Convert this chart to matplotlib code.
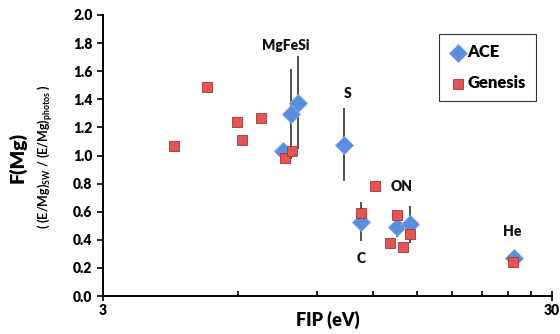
import matplotlib
matplotlib.use("Agg")
import matplotlib.pyplot as plt
from matplotlib.ticker import FixedLocator, NullFormatter, FixedFormatter

plt.rcParams['font.family'] = ['Lato', 'DejaVu Sans']

# ACE data
ace_fip = [7.56, 7.85, 8.15, 10.34, 11.26, 13.57, 14.5, 24.7]
ace_f = [1.03, 1.295, 1.376, 1.075, 0.53, 0.49, 0.51, 0.27]
ace_err = [0.0, 0.32, 0.33, 0.26, 0.14, 0.07, 0.13, 0.02]

# Genesis data
gen_fip = [4.32, 5.11, 5.96, 6.12, 6.73, 7.64, 7.90, 11.26, 12.09, 13.08, 13.57, 14.0, 14.48, 24.5]
gen_f = [1.07, 1.49, 1.24, 1.11, 1.27, 0.98, 1.03, 0.59, 0.785, 0.38, 0.58, 0.35, 0.44, 0.24]

labels = ["MgFeSi", "S", "C", "ON", "He"]
label_x = [7.65, 10.5, 11.26, 13.9, 24.5]
label_y = [1.78, 1.44, 0.27, 0.78, 0.46]

fig = plt.figure(figsize=(5.6, 3.34), dpi=100)
ax = fig.add_axes([103/560, 38/334, 449/560, 281/334])

ax.errorbar(ace_fip, ace_f, yerr=ace_err, fmt='none', ecolor='#222222',
            elinewidth=1.1, capsize=0, zorder=2)
ax.scatter(ace_fip, ace_f, marker='D', s=85, color='#5A8EDC',
           edgecolor='#7FA8E8', linewidth=0.6, zorder=3, label='ACE')
ax.scatter(gen_fip, gen_f, marker='s', s=55, color='#E05555',
           edgecolor='#B03030', linewidth=0.6, zorder=4, label='Genesis')

for t, x, y in zip(labels, label_x, label_y):
    ax.text(x, y, t, ha='center', va='center', fontsize=10, fontweight='heavy',
            color='#111111')

ax.set_xscale('log')
ax.set_xlim(3, 30)
ax.set_ylim(0, 2.0)
ax.xaxis.set_major_locator(FixedLocator([3, 30]))
ax.xaxis.set_major_formatter(FixedFormatter(['3', '30']))
ax.xaxis.set_minor_locator(FixedLocator([6, 9, 12, 15, 18, 21, 24, 27]))
ax.xaxis.set_minor_formatter(NullFormatter())
ax.set_yticks([0.0, 0.2, 0.4, 0.6, 0.8, 1.0, 1.2, 1.4, 1.6, 1.8, 2.0])
ax.set_yticklabels([f"{v:.1f}" for v in ax.get_yticks()])

for s in ['top', 'right']:
    ax.spines[s].set_visible(False)
for s in ['left', 'bottom']:
    ax.spines[s].set_linewidth(1.4)
    ax.spines[s].set_color('black')

ax.tick_params(axis='y', which='major', direction='out', length=4, width=1.2,
               labelsize=10)
ax.tick_params(axis='x', which='major', direction='inout', length=7, width=1.2,
               labelsize=10, pad=2)
ax.tick_params(axis='x', which='minor', direction='in', length=3.5, width=1.2)
for lab in ax.get_xticklabels() + ax.get_yticklabels():
    lab.set_fontweight('heavy')

ax.set_xlabel('FIP (eV)', fontsize=13, fontweight='heavy', labelpad=-4)

fig.text(18/560, 1 - 157/334, 'F(Mg)', rotation=90, ha='center', va='center',
         fontsize=14, fontweight='heavy')
fig.text(45/560, 1 - 157/334,
         r'( (E/Mg)$_{\mathregular{SW}}$ / (E/Mg)$_{\mathregular{photos}}$ )',
         rotation=90, ha='center', va='center', fontsize=9, fontweight='bold')

leg = ax.legend(loc='upper right', frameon=True, fancybox=False,
                handletextpad=0.1, handlelength=1.0, labelspacing=0.9,
                borderpad=0.6, borderaxespad=0, prop={'weight': 'heavy', 'size': 12})
leg.get_frame().set_edgecolor('black')
leg.get_frame().set_linewidth(0.8)
leg.set_bbox_to_anchor(((536-103)/449, 1 - (34-15)/281), transform=ax.transAxes)

fig.savefig('out.png', dpi=100)
